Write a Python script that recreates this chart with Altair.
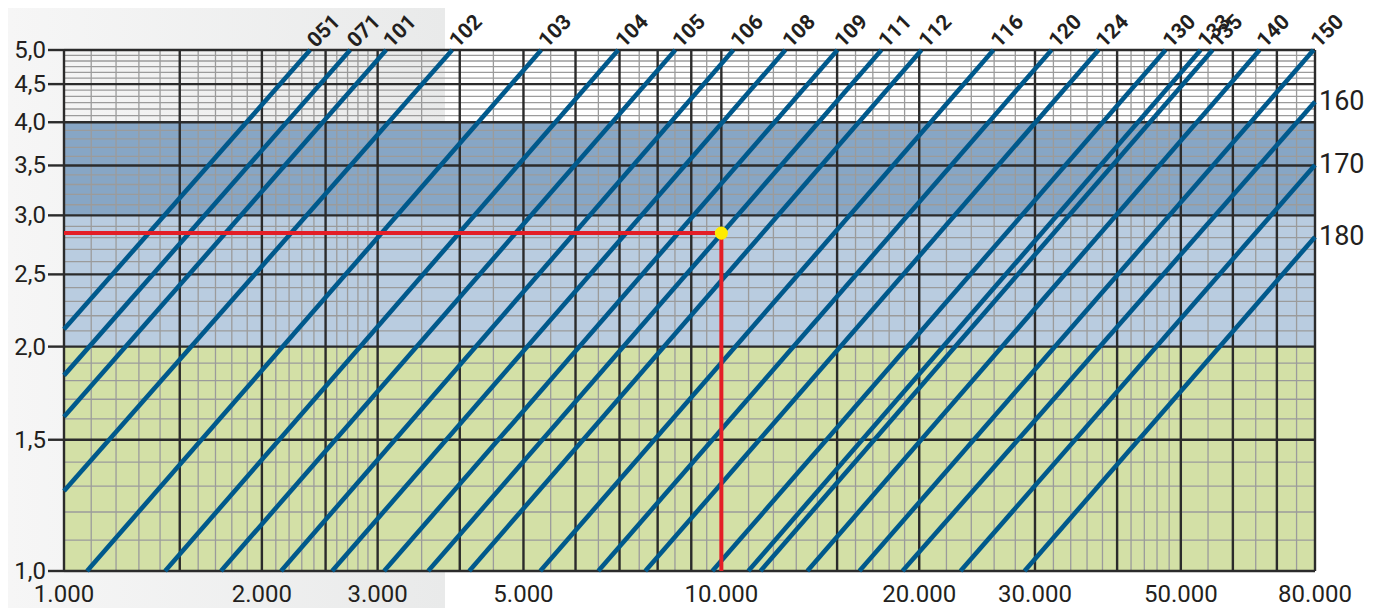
import altair as alt
import pandas as pd

# ---------------- data ----------------
line_labels = ["051", "071", "101", "102", "103", "104", "105", "106", "108", "109",
               "111", "112", "116", "120", "124", "130", "133", "135", "140", "150",
               "160", "170", "180"]
x_start = [1000, 1000, 1000, 1000, 1084, 1425, 1733, 2139, 2558, 3069,
           3581, 4135, 5303, 6498, 7661, 9690, 10990, 11468, 13515, 16218,
           18862, 23110, 28920]
y_start = [2.11, 1.83, 1.61, 1.28, 1.0, 1.0, 1.0, 1.0, 1.0, 1.0,
           1.0, 1.0, 1.0, 1.0, 1.0, 1.0, 1.0, 1.0, 1.0, 1.0,
           1.0, 1.0, 1.0]
x_end = [2368, 2725, 3091, 3895, 5321, 6969, 8511, 10430, 12515, 15018,
         17520, 20160, 25940, 31790, 37480, 47400, 53590, 55890, 65890, 79600,
         80000, 80000, 80000]
y_end = [5.0, 5.0, 5.0, 5.0, 5.0, 5.0, 5.0, 5.0, 5.0, 5.0,
         5.0, 5.0, 5.0, 5.0, 5.0, 5.0, 5.0, 5.0, 5.0, 5.0,
         4.26, 3.505, 2.806]

# red reading path and operating point
red_x = [1000, 10000, 10000]
red_y = [2.84, 2.84, 1.0]
point_x = [10000]
point_y = [2.84]

# coloured bands
band_lo = [1.0, 2.0, 3.0]
band_hi = [2.0, 3.0, 4.0]
band_color = ["#d3e0a6", "#b9cce0", "#87a6c5"]

# grid lines
major_x = [1000, 1500, 2000, 2500, 3000, 4000, 5000, 6000, 7000, 8000, 9000, 10000,
           15000, 20000, 30000, 40000, 50000, 60000, 70000, 80000]
minor_x = [1100, 1200, 1300, 1400, 1600, 1700, 1800, 1900,
           2100, 2200, 2300, 2400, 2600, 2700, 2800, 2900,
           3500, 4500, 5500, 6500, 7500, 8500, 9500,
           11000, 12000, 13000, 14000, 16000, 17000, 18000, 19000,
           22000, 24000, 26000, 28000, 32000, 34000, 36000, 38000,
           42000, 44000, 46000, 48000, 55000, 65000, 75000]
major_y = [1.0, 1.5, 2.0, 2.5, 3.0, 3.5, 4.0, 4.5, 5.0]
minor_y = [1.1, 1.2, 1.3, 1.4, 1.6, 1.7, 1.8, 1.9,
           2.1, 2.2, 2.3, 2.4, 2.6, 2.7, 2.8, 2.9,
           3.1, 3.2, 3.3, 3.4, 3.6, 3.7, 3.8, 3.9,
           4.083, 4.167, 4.25, 4.333, 4.417, 4.583, 4.667, 4.75, 4.833, 4.917]

# axis ticks and their labels
x_ticks = [1000, 2000, 3000, 5000, 10000, 20000, 30000, 50000, 80000]
x_tick_labels = ["1.000", "2.000", "3.000", "5.000", "10.000", "20.000", "30.000", "50.000", "80.000"]
y_ticks = [1.0, 1.5, 2.0, 2.5, 3.0, 3.5, 4.0, 4.5, 5.0]
y_tick_labels = ["1,0", "1,5", "2,0", "2,5", "3,0", "3,5", "4,0", "4,5", "5,0"]

# ---------------- styling ----------------
FONT = "Roboto, Liberation Sans, sans-serif"
TXT = "#231f20"
BLUE = "#00598c"

X_SCALE = alt.Scale(type="log", domain=[1000, 80000], nice=False)
Y_SCALE = alt.Scale(type="log", domain=[1, 5], nice=False)


def X(field="xa"):
    return alt.X(f"{field}:Q", scale=X_SCALE, axis=None)


def Y(field="lo"):
    return alt.Y(f"{field}:Q", scale=Y_SCALE, axis=None)


# ---------------- layers ----------------
strip = alt.Chart(pd.DataFrame({"k": [0]})).mark_rect(
    fill={"gradient": "linear", "x1": 0, "x2": 1, "y1": 0, "y2": 0,
          "stops": [{"offset": 0, "color": "#f6f6f6"}, {"offset": 1, "color": "#e9eaea"}]}
).encode(x=alt.value(-56), x2=alt.value(381), y=alt.value(-42), y2=alt.value(560))

bands_df = pd.DataFrame({"lo": band_lo, "hi": band_hi, "c": band_color,
                         "xa": [x_ticks[0]] * 3, "xb": [x_ticks[-1]] * 3})
bands = alt.Chart(bands_df).mark_rect().encode(
    x=X(), x2="xb:Q", y=Y(), y2="hi:Q", color=alt.Color("c:N", scale=None))


def vrules(vals, color, width):
    return alt.Chart(pd.DataFrame({"xa": vals})).mark_rule(
        color=color, strokeWidth=width).encode(x=X())


def hrules(vals, color, width):
    return alt.Chart(pd.DataFrame({"lo": vals})).mark_rule(
        color=color, strokeWidth=width).encode(y=Y())


minor_v = vrules(minor_x, "#9b9b9b", 1.3)
minor_h = hrules(minor_y, "#9b9b9b", 1.3)
major_v = vrules(major_x, "#2b2b2b", 2.4)
major_h = hrules(major_y, "#2b2b2b", 2.4)

# y-axis tick marks (left of the plot) and labels
ytick_df = pd.DataFrame({"lo": y_ticks, "xa": [x_ticks[0]] * len(y_ticks), "t": y_tick_labels})
y_tick_marks = alt.Chart(ytick_df).mark_rule(color="#2b2b2b", strokeWidth=2.4).encode(
    y=Y(), x=alt.value(-16), x2=alt.value(0))
y_labels = alt.Chart(ytick_df).mark_text(
    align="right", baseline="middle", dx=-18, dy=1,
    font=FONT, fontSize=24, color=TXT).encode(x=X(), y=Y(), text="t:N")

xtick_df = pd.DataFrame({"xa": x_ticks, "lo": [y_ticks[0]] * len(x_ticks), "t": x_tick_labels})
x_labels = alt.Chart(xtick_df).mark_text(
    align="center", baseline="top", dy=12,
    font=FONT, fontSize=24, color=TXT).encode(x=X(), y=Y(), text="t:N")

rows = []
for i, lab in enumerate(line_labels):
    rows.append({"label": lab, "xa": x_start[i], "lo": y_start[i], "o": 0})
    rows.append({"label": lab, "xa": x_end[i], "lo": y_end[i], "o": 1})
lines_df = pd.DataFrame(rows)
lines = alt.Chart(lines_df).mark_line(color=BLUE, strokeWidth=4.6, strokeCap="butt").encode(
    x=X(), y=Y(), detail="label:N", order="o:Q")

red_df = pd.DataFrame({"xa": red_x, "lo": red_y, "o": list(range(len(red_x)))})
red = alt.Chart(red_df).mark_line(color="#e31e26", strokeWidth=4, strokeJoin="miter").encode(
    x=X(), y=Y(), order="o:Q")

dot = alt.Chart(pd.DataFrame({"xa": point_x, "lo": point_y})).mark_circle(
    size=170, color="#ffeb00", opacity=1).encode(x=X(), y=Y())

lab_df = pd.DataFrame({"label": line_labels, "xa": x_end, "lo": y_end})
top_labels = alt.Chart(lab_df).transform_filter("datum.lo >= 5").mark_text(
    angle=315, align="left", baseline="alphabetic", dx=5, dy=3,
    font=FONT, fontSize=21, fontWeight="bold", color=TXT).encode(
    x=X(), y=Y(), text="label:N")
right_labels = alt.Chart(lab_df).transform_filter("datum.lo < 5").mark_text(
    align="left", baseline="middle", dx=4,
    font=FONT, fontSize=27, color=TXT).encode(
    x=X(), y=Y(), text="label:N")

chart = alt.layer(
    strip, bands, minor_v, minor_h, major_v, major_h, y_tick_marks, y_labels, x_labels,
    lines, red, dot, top_labels, right_labels
).properties(
    width=1251, height=521,
    padding={"left": 56, "top": 42, "right": 50, "bottom": 37},
    autosize=alt.AutoSizeParams(type="none"),
    background="white",
).configure_view(stroke=None, fill=None)

chart.save("out.html", embed_options={"renderer": "svg", "actions": False})
